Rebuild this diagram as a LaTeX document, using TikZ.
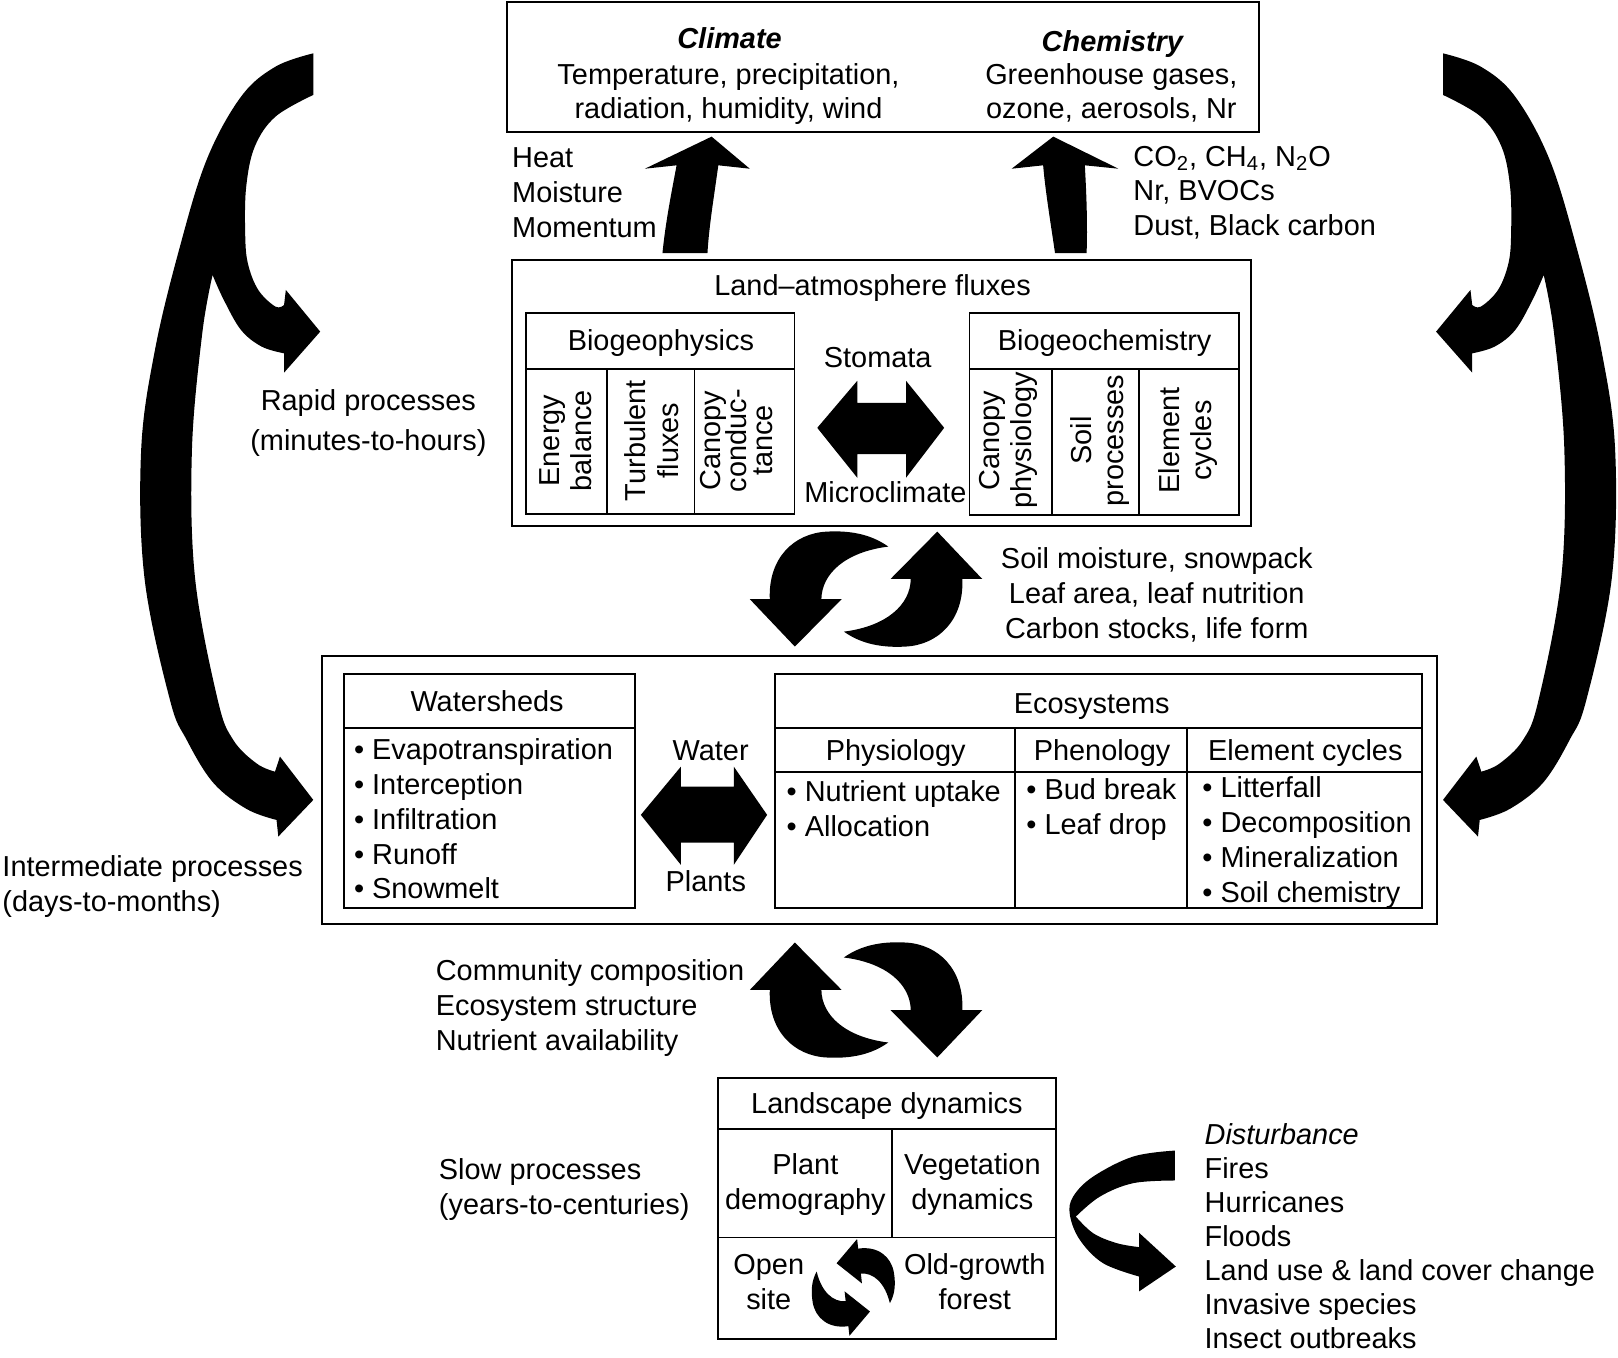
\documentclass[tikz,border=0pt]{standalone}
\usepackage{fontspec}
\setmainfont{Liberation Sans}
\tikzset{
    crescent/.pic={
        \fill (-112.6,9.8) -- (-69,55.7) -- (-23.7,9.8) -- (-43.3,9.8)
            .. controls (-43,-15) and (-20,-36) .. (21.5,-41.2)
            .. controls (5,-53) and (-15,-57) .. (-38.3,-55.7)
            .. controls (-70,-54) and (-95,-30) .. (-93.3,9.8) -- cycle;
    },
    sidearrow/.pic={
        \fill (303.6,51.7)
            -- plot[smooth, tension=0.6] coordinates {(303.6,92) (267,113) (246.9,142.1) (238.6,180.9) (237.6,226.1) (240.2,255.2) (250.3,281) (267,297.2) (275.3,295.5)}
            -- (277,281) -- (310.3,321.4) -- (275.3,361.1)
            -- plot[smooth, tension=0.6] coordinates {(275.3,342.4) (253.6,335.9) (233.6,319.8) (216.9,290.7) (206,266.5)}
            -- plot[smooth, tension=0.6] coordinates {(206,266.5) (196,323) (186,436) (189,560) (211,678.3) (226,717) (248.7,739.9) (266.5,747.8)}
            -- (271.3,733.2) -- (303.6,775.2) -- (269.7,810.7)
            -- plot[smooth, tension=0.6] coordinates {(268,794.6) (239,784) (206.7,758.6) (180.9,717) (164.7,678.3) (140,560) (136.8,436) (150.2,339) (173.5,242.2) (200.2,155) (233.6,93.7) (267,64.6) (303.6,51.7)}
            -- cycle;
    }
}
\begin{document}
\begin{tikzpicture}[x=0.5pt, y=-0.5pt,
    every node/.style={inner sep=0pt, align=center, font=\fontsize{14}{16.9}\selectfont,
        execute at begin node=\strut, execute at end node=\strut},
    frame/.style={draw, line width=0.9pt},
    sideways/.style={rotate=90, font=\fontsize{14}{15.6}\selectfont},
    listing/.style={anchor=west, align=left}]
    \useasboundingbox (0,0) rectangle (1568,1316);

    % boxes
    \draw[frame] (491,2) rectangle (1220,127.6);
    \draw[frame] (496,252) rectangle (1212,509.5);
    \draw[frame] (509.5,303) rectangle (770,498.5);
    \draw[frame] (509.5,358) -- (770,358) (588.6,358) -- (588.6,498.5) (673,358) -- (673,498.5);
    \draw[frame] (939.5,303.5) rectangle (1200.5,499);
    \draw[frame] (939.5,358) -- (1200.5,358) (1019.6,358) -- (1019.6,499) (1104,358) -- (1104,499);
    \draw[frame] (312,635.6) rectangle (1392.5,895.3);
    \draw[frame] (333.3,653) rectangle (615.5,880.2);
    \draw[frame] (333.3,705.7) -- (615.5,705.7);
    \draw[frame] (751.2,653) rectangle (1378,880.2);
    \draw[frame] (751.2,705.7) -- (1378,705.7) (751.2,748.4) -- (1378,748.4);
    \draw[frame] (983.6,705.7) -- (983.6,880.2) (1150.6,705.7) -- (1150.6,880.2);
    \draw[frame] (696.2,1045) rectangle (1023.6,1297.8);
    \draw[frame] (696.2,1094.3) -- (1023.6,1094.3) (696.2,1199.3) -- (1023.6,1199.3);
    \draw[frame] (864.8,1094.3) -- (864.8,1199.3);

    % atmosphere
    \node (climate) at (707,40) {\bfseries\itshape Climate};
    \node (climatevars) at (706,93.3) {Temperature, precipitation,\\radiation, humidity, wind};
    \node (chemistry) at (1078,43) {\bfseries\itshape Chemistry};
    \node (chemvars) at (1077,93.3) {Greenhouse gases,\\ozone, aerosols, Nr};
    \node[listing] (heat) at (496,192) {Heat\\Moisture\\Momentum};
    \node[listing] (gases) at (1098,190) {CO\textsubscript{2}, CH\textsubscript{4}, N\textsubscript{2}O\\Nr, BVOCs\\Dust, Black carbon};
    \fill (642,245.2) .. controls (645,215) and (651,185) .. (655.7,160.2) -- (625,163.5) -- (689.6,132.4)
        -- (726.6,163.5) -- (696.1,160.2) .. controls (692,190) and (687,220) .. (685.6,245.2) -- cycle;
    \fill (1022.4,245.2) .. controls (1018,215) and (1013,185) .. (1010.9,160.2) -- (980.4,163.5) -- (1020.7,132.4)
        -- (1083.8,163.5) -- (1051.3,160.2) .. controls (1053,190) and (1054,220) .. (1053,245.2) -- cycle;

    % land-atmosphere fluxes
    \node (fluxes) at (845.6,280) {Land--atmosphere fluxes};
    \node (biophys) at (640.5,333) {Biogeophysics};
    \node (biochem) at (1070.5,333) {Biogeochemistry};
    \node[sideways] (energy) at (552.4,427) {Energy\\balance};
    \node[sideways] (turbulent) at (636,427) {Turbulent\\fluxes};
    \node[sideways] (conductance) at (718.5,427) {Canopy\\[-3.1pt]conduc-\\[-3.1pt]tance};
    \node[sideways] (canopy) at (979,427) {Canopy\\physiology};
    \node[sideways] (soil) at (1067.7,427) {Soil\\processes};
    \node[sideways] (cycles) at (1153,427) {Element\\cycles};
    \node (stomata) at (850.6,349) {Stomata};
    \node (microclimate) at (858,480) {Microclimate};
    \fill (792,414.6) -- (830.8,369) -- (830.8,390.5) -- (878,390.5) -- (878,369) -- (915,414.6)
        -- (878,463) -- (878,440) -- (830.8,440) -- (830.8,463) -- cycle;

    % exchange with the land
    \pic at (839.3,570.9) {crescent};
    \pic[rotate=180] at (839.3,570.9) {crescent};
    \node (stocks) at (1121,580) {Soil moisture, snowpack\\Leaf area, leaf nutrition\\Carbon stocks, life form};

    % watersheds and ecosystems
    \node (watersheds) at (472,683) {Watersheds};
    \node[listing] (hydro) at (342.7,798.5) {\textbullet\ Evapotranspiration\\\textbullet\ Interception\\\textbullet\ Infiltration\\\textbullet\ Runoff\\\textbullet\ Snowmelt};
    \node (water) at (688.7,730) {Water};
    \node (plants) at (684,857) {Plants};
    \fill (621,789.7) -- (659.9,742.9) -- (659.9,762.3) -- (711.1,762.3) -- (711.1,742.9) -- (743.4,789.7)
        -- (711.1,838.2) -- (711.1,816.6) -- (659.9,816.6) -- (659.9,838.2) -- cycle;
    \node (ecosystems) at (1058,685) {Ecosystems};
    \node (physiology) at (868,730) {Physiology};
    \node (phenology) at (1068,730) {Phenology};
    \node (elements) at (1265,730) {Element cycles};
    \node[listing] (uptake) at (762,788.4) {\textbullet\ Nutrient uptake\\\textbullet\ Allocation};
    \node[listing] (budbreak) at (994.3,786.8) {\textbullet\ Bud break\\\textbullet\ Leaf drop};
    \node[listing] (litter) at (1164.9,818.9) {\textbullet\ Litterfall\\\textbullet\ Decomposition\\\textbullet\ Mineralization\\\textbullet\ Soil chemistry};

    \pic[yscale=-1] at (839.3,969.1) {crescent};
    \pic[xscale=-1] at (839.3,969.1) {crescent};
    \node[listing] (community) at (422,979) {Community composition\\Ecosystem structure\\Nutrient availability};

    % landscape
    \node (landscape) at (859.5,1072) {Landscape dynamics};
    \node (demography) at (780.5,1150.5) {Plant\\demography};
    \node (vegetation) at (942.3,1150.5) {Vegetation\\dynamics};
    \node (opensite) at (745,1247.4) {Open\\site};
    \node (oldgrowth) at (944.6,1247.4) {Old-growth\\forest};
    \pic[rotate=-83.8, scale=0.487] at (841.3,1254.7) {crescent};
    \pic[rotate=96.2, scale=0.487] at (812.5,1240.5) {crescent};
    \node[listing] (slow) at (425,1154.5) {Slow processes\\(years-to-centuries)};

    \fill (1138.6,1115)
        -- plot[smooth, tension=0.6] coordinates {(1138.6,1115) (1098.2,1120.8) (1059.4,1140.2) (1040,1159.6) (1036.8,1177.3) (1046.5,1201.6) (1069.1,1224.2) (1104,1237.1)}
        -- (1104,1251.4) -- (1139.5,1227.4) -- (1104,1194.8)
        -- plot[smooth, tension=0.6] coordinates {(1104,1208.6) (1082.1,1204.7) (1059.4,1195.1) (1042.6,1179)}
        -- plot[smooth, tension=0.6] coordinates {(1042.6,1179) (1065.9,1159.6) (1098.2,1146.6) (1138.6,1144)}
        -- cycle;
    \node[listing, font=\fontsize{14}{16.45}\selectfont] (disturbance) at (1167,1202.6) {\itshape Disturbance\\Fires\\Hurricanes\\Floods\\Land use \& land cover change\\Invasive species\\Insect outbreaks};

    % time scales
    \pic at (0,0) {sidearrow};
    \pic[xscale=-1] at (1702,0) {sidearrow};
    \node (rapid) at (357,412) {Rapid processes\\[2.5pt](minutes-to-hours)};
    \node[listing] (intermediate) at (2,861) {Intermediate processes\\(days-to-months)};
\end{tikzpicture}
\end{document}
